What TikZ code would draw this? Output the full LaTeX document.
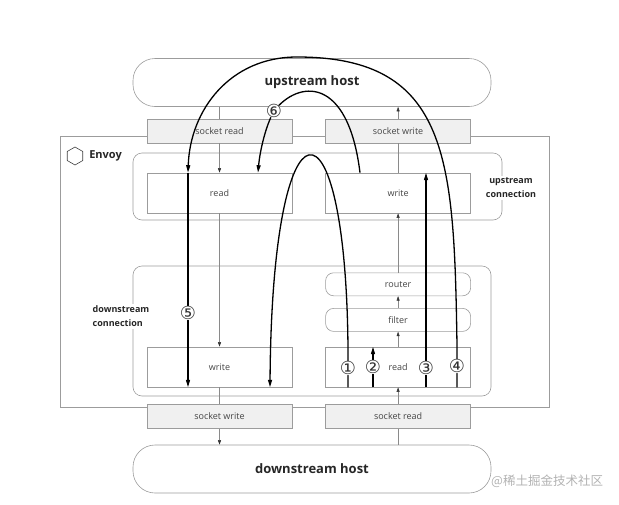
\documentclass[tikz,border=0pt]{standalone}
\usepackage{fontspec}
\setmainfont{Open Sans}
\newfontfamily\circfont{DejaVu Sans}
\newfontfamily\cjkfont{Noto Sans CJK SC}
\usetikzlibrary{shapes.geometric, arrows.meta, positioning}

\definecolor{boxline}{HTML}{9C9C9C}
\definecolor{sockfill}{HTML}{F0F0F0}
\definecolor{labeltext}{HTML}{454545}
\definecolor{linkgray}{HTML}{8A8A8A}

\begin{document}
\begin{tikzpicture}[x=1pt, y=-1pt,
    host/.style={rectangle, rounded corners=22pt, draw=boxline, line width=0.6pt, minimum width=358, minimum height=48, font=\fontsize{13}{15}\selectfont\bfseries, text=black!85},
    frame/.style={rectangle, draw=boxline, line width=0.6pt},
    sock/.style={rectangle, draw=boxline, line width=0.6pt, fill=sockfill, minimum width=145, minimum height=24, font=\fontsize{9}{10}\selectfont, text=labeltext},
    conn/.style={rectangle, rounded corners=9pt, draw=boxline, line width=0.6pt},
    stage/.style={rectangle, draw=boxline, line width=0.6pt, fill=white, minimum width=145, minimum height=40, font=\fontsize{9}{10}\selectfont, text=labeltext},
    filt/.style={stage, rounded corners=8pt, minimum height=23},
    connlabel/.style={fill=white, inner sep=2pt, font=\fontsize{9}{14}\selectfont\bfseries, text=black!85},
    link/.style={draw=linkgray, line width=0.5pt},
    linkarrow/.style={link, -{Triangle[length=4.5pt, width=3pt, color=black!80]}},
    flow/.style={line width=1.3pt, black},
    flowarrow/.style={flow, -{Triangle[length=7.5pt, width=4pt]}},
    num/.style={circle, fill=white, inner sep=-2.5pt, font=\circfont\fontsize{18}{18}\selectfont, text=black!80}
]
    \useasboundingbox (0,0) rectangle (619,504);

    % Hosts and Envoy frame
    \node[host] (uphost) at (312,82.5) {upstream host};
    \node[frame, minimum width=489, minimum height=271] (envoy) at (304.5,271.5) {};
    \node[regular polygon, regular polygon sides=6, shape border rotate=90, draw=black!75, line width=0.6pt, minimum size=18pt, inner sep=0pt] (hex) at (75,156) {};
    \node[right=6pt of hex, inner sep=0pt, font=\fontsize{11}{13}\selectfont\bfseries, text=black!85] (envoylabel) {Envoy};

    % Sockets to upstream
    \node[sock] (sockrd_up) at (219.5,131) {socket read};
    \node[sock, right=33pt of sockrd_up] (sockwr_up) {socket write};

    % Upstream connection
    \node[conn, minimum width=369, minimum height=67] (upconn) at (317.5,186.5) {};
    \node[stage] (rd_up) at (219.5,193) {read};
    \node[stage, right=33pt of rd_up] (wr_up) {write};
    \node[connlabel, align=center] (uplabel) at (511,188) {upstream\\connection};

    % Downstream connection
    \node[conn, minimum width=358, minimum height=130] (dnconn) at (312,331) {};
    \node[stage] (wr_dn) at (219.5,367) {write};
    \node[stage, right=33pt of wr_dn] (rd_dn) {read};
    \node[filt, above=15pt of rd_dn] (filter) {filter};
    \node[filt, above=12pt of filter] (router) {router};
    \node[connlabel, align=left] (dnlabel) at (121,316.5) {downstream\\connection};

    % Sockets to downstream
    \node[sock] (sockwr_dn) at (219.5,416.5) {socket write};
    \node[sock, right=33pt of sockwr_dn] (sockrd_dn) {socket read};
    \node[host] (dnhost) at (312,469) {downstream host};

    \node[anchor=west, inner sep=0pt, font=\cjkfont\fontsize{12.5}{13}\selectfont, text=black!30] (mark) at (491,481) {@稀土掘金技术社区};

    % Data path
    \draw[link] (uphost.south -| sockrd_up) -- (sockrd_up.north);
    \draw[linkarrow] (sockrd_up.south) -- (rd_up.north);
    \draw[linkarrow] (rd_up.south) -- (wr_dn.north);
    \draw[link] (wr_dn.south) -- (sockwr_dn.north);
    \draw[linkarrow] (sockwr_dn.south) -- (dnhost.north -| sockwr_dn);
    \draw[link] (dnhost.north -| sockrd_dn) -- (sockrd_dn.south);
    \draw[linkarrow] (sockrd_dn.north) -- (rd_dn.south);
    \draw[linkarrow] (rd_dn.north) -- (filter.south);
    \draw[linkarrow] (filter.north) -- (router.south);
    \draw[linkarrow] (router.north) -- (wr_up.south);
    \draw[link] (wr_up.north) -- (sockwr_up.south);
    \draw[linkarrow] (sockwr_up.north) -- (uphost.south -| sockwr_up);

    % Event lanes
    \coordinate (lane1) at (348,0);
    \coordinate (lane2) at (373,0);
    \coordinate (lane3) at (426,0);
    \coordinate (lane4) at (457,0);
    \coordinate (lane5) at (188,0);
    \coordinate (lane6) at (360,0);
    \coordinate (lane7) at (258,0);

    \draw[flowarrow] (rd_dn.south -| lane1) -- node[num] {①} (348,349)
        .. controls (346,85) and (272,85) .. (wr_dn.south -| 270,0);
    \draw[flowarrow] (rd_dn.south -| lane2) -- node[num] {②} (rd_dn.north -| lane2);
    \draw[flowarrow] (rd_dn.south -| lane3) -- node[num, pos=0.09] {③} (wr_up.north -| lane3);
    \draw[flowarrow] (rd_dn.south -| lane4) -- node[num] {④} (457,345)
        .. controls (454,160) and (450,57) .. (297,57)
        .. controls (230,57) and (190,110) .. (rd_up.north -| lane5);
    \draw[flowarrow] (rd_up.north -| lane5) -- node[num, pos=0.654] {⑤} (wr_dn.south -| lane5);
    \draw[flowarrow] (wr_up.north -| lane6) .. controls (348,75) and (298,80) .. (274,111) node[num] {⑥}
        .. controls (266,125) and (260,150) .. (rd_up.north -| lane7);
\end{tikzpicture}
\end{document}
